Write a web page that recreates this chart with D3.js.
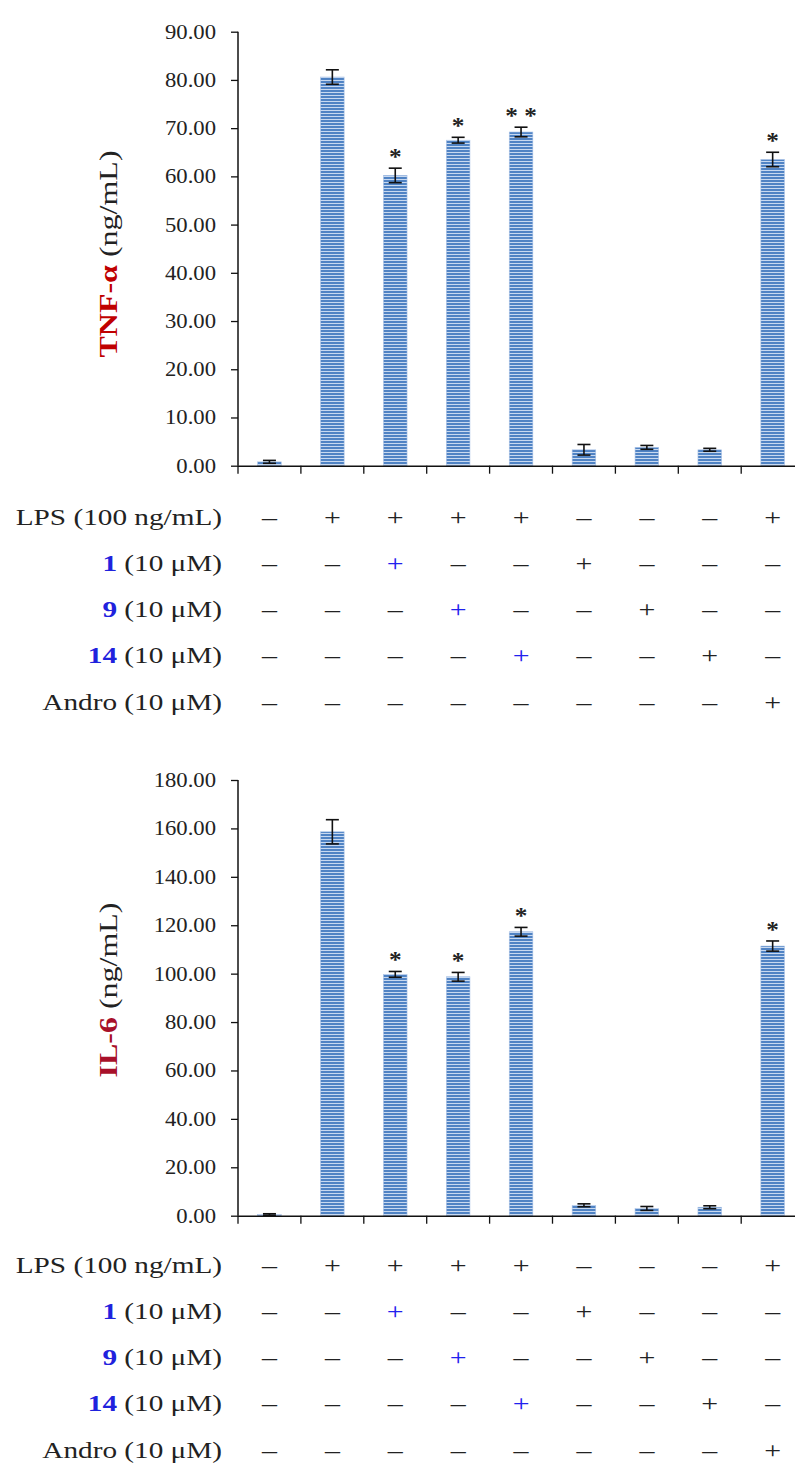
<!DOCTYPE html>
<html>
<head>
<meta charset="utf-8">
<script src="https://cdn.jsdelivr.net/npm/d3@7"></script>
<style>
  body { margin: 0; background: #fff; }
  svg { display: block; }
  text { font-family: "Liberation Serif", "Times New Roman", serif; fill: #222; }
</style>
</head>
<body>
<svg id="chart" width="795" height="1463"></svg>
<script>
// treatment groups, left to right
var groups = ["ctrl", "LPS", "LPS+1", "LPS+9", "LPS+14", "1", "9", "14", "LPS+Andro"];

// TNF-a (ng/mL), mean and error
var tnfMean = [0.8, 80.6, 60.2, 67.5, 69.2, 3.3, 3.8, 3.3, 63.5];
var tnfErr  = [0.3, 1.5, 1.5, 0.6, 1.0, 1.1, 0.4, 0.3, 1.5];
var tnfSig  = ["", "", "*", "*", "* *", "", "", "", "*"];
var tnfTicks = [0, 10, 20, 30, 40, 50, 60, 70, 80, 90];

// IL-6 (ng/mL), mean and error
var il6Mean = [0.5, 158.6, 99.7, 98.7, 117.3, 4.3, 3.0, 3.5, 111.4];
var il6Err  = [0.3, 5.0, 1.2, 1.8, 1.8, 0.6, 0.8, 0.6, 2.1];
var il6Sig  = ["", "", "*", "*", "*", "", "", "", "*"];
var il6Ticks = [0, 20, 40, 60, 80, 100, 120, 140, 160, 180];

// +/- table under each chart
var rowLabels = [["", "LPS (100 ng/mL)"], ["1", " (10 μM)"], ["9", " (10 μM)"], ["14", " (10 μM)"], ["", "Andro (10 μM)"]];
var lpsRow   = [0, 1, 1, 1, 1, 0, 0, 0, 1];
var cmp1Row  = [0, 0, 1, 0, 0, 1, 0, 0, 0];
var cmp9Row  = [0, 0, 0, 1, 0, 0, 1, 0, 0];
var cmp14Row = [0, 0, 0, 0, 1, 0, 0, 1, 0];
var androRow = [0, 0, 0, 0, 0, 0, 0, 0, 1];
var tableRows = [lpsRow, cmp1Row, cmp9Row, cmp14Row, androRow];

var svg = d3.select("#chart");

// striped fill like the excel bars
var pat = svg.append("defs").append("pattern")
    .attr("id", "stripes").attr("patternUnits", "userSpaceOnUse")
    .attr("width", 6).attr("height", 3);
pat.append("rect").attr("width", 6).attr("height", 3).attr("fill", "#5083c4");
pat.append("rect").attr("y", 2).attr("width", 6).attr("height", 1).attr("fill", "#c8d9f0");

var x = d3.scaleBand().domain(groups).range([238, 238 + 62.9 * 9]).paddingInner(0.625).paddingOuter(0.3125);

// text squeezed/widened horizontally, the source picture is not square
function stretched(g, px, py, size, anchor, sx) {
    return g.append("text")
        .attr("transform", "translate(" + px + "," + py + ") scale(" + sx + ",1)")
        .attr("text-anchor", anchor)
        .attr("font-size", size);
}

function drawPanel(opt) {
    var g = svg.append("g");
    var y = d3.scaleLinear().domain([0, opt.max]).range([opt.y0, opt.yTop]);

    // bars
    g.selectAll("rect.bar").data(opt.mean).enter().append("rect")
        .attr("class", "bar")
        .attr("x", (d, i) => x(groups[i]))
        .attr("width", x.bandwidth())
        .attr("y", d => y(d))
        .attr("height", d => opt.y0 - y(d))
        .attr("fill", "url(#stripes)")
        .attr("stroke", "#a9c2e6").attr("stroke-width", 0.6);

    // error bars
    var eb = g.selectAll("g.err").data(opt.mean).enter().append("g")
        .attr("stroke", "#111").attr("stroke-width", 1.6);
    eb.append("line")
        .attr("x1", (d, i) => x(groups[i]) + x.bandwidth() / 2)
        .attr("x2", (d, i) => x(groups[i]) + x.bandwidth() / 2)
        .attr("y1", (d, i) => y(d - opt.err[i]))
        .attr("y2", (d, i) => y(d + opt.err[i]));
    [-1, 1].forEach(function (s) {
        eb.append("line")
            .attr("x1", (d, i) => x(groups[i]) + x.bandwidth() / 2 - 6.5)
            .attr("x2", (d, i) => x(groups[i]) + x.bandwidth() / 2 + 6.5)
            .attr("y1", (d, i) => y(d + s * opt.err[i]))
            .attr("y2", (d, i) => y(d + s * opt.err[i]));
    });

    // significance stars
    opt.sig.forEach(function (s, i) {
        if (!s) return;
        stretched(g, x(groups[i]) + x.bandwidth() / 2, y(opt.mean[i] + opt.err[i]) - 4, 23, "middle", 1.1)
            .attr("font-weight", "bold").text(s);
    });

    // y axis
    var yAxis = d3.axisLeft(y).tickValues(opt.ticks).tickSize(7).tickFormat(d3.format(".2f"));
    var ya = g.append("g").attr("transform", "translate(238,0)").call(yAxis);
    ya.select(".domain").attr("stroke", "#111").attr("stroke-width", 1.5).attr("d", "M0," + opt.yTop + "V" + opt.y0);
    ya.selectAll(".tick line").attr("stroke", "#111").attr("stroke-width", 1.3);
    ya.selectAll(".tick text").remove();
    opt.ticks.forEach(function (t) {
        stretched(g, 216, y(t) + 7, 21, "end", 1.08).text(d3.format(".2f")(t));
    });

    // x axis with ticks between groups
    var edges = groups.map(d => x(d) - x.step() * x.paddingInner() / 2).concat([238 + 62.9 * 9]);
    g.append("line").attr("x1", 238).attr("x2", 804).attr("y1", opt.y0 + 0.5).attr("y2", opt.y0 + 0.5)
        .attr("stroke", "#111").attr("stroke-width", 1.5);
    g.selectAll("line.xt").data(edges).enter().append("line")
        .attr("x1", d => d).attr("x2", d => d)
        .attr("y1", opt.y0).attr("y2", opt.y0 + 8)
        .attr("stroke", "#111").attr("stroke-width", 1.3);

    // rotated y title
    var tt = g.append("text")
        .attr("transform", "translate(" + opt.titleX + "," + opt.titleY + ") rotate(-90) scale(1.28,1)")
        .attr("text-anchor", "middle").attr("font-size", 25);
    tt.append("tspan").attr("font-weight", "bold").style("fill", opt.titleColor).text(opt.title);
    tt.append("tspan").text(" (ng/mL)");

    // treatment table
    tableRows.forEach(function (row, r) {
        var ry = opt.rowY[r];
        var lab = stretched(g, 222, ry + 7.5, 22.5, "end", 1.3);
        if (rowLabels[r][0]) lab.append("tspan").attr("font-weight", "bold").style("fill", "#1f22dd").text(rowLabels[r][0]);
        lab.append("tspan").text(rowLabels[r][1]);
        row.forEach(function (v, i) {
            var blue = v && r >= 1 && r <= 3 && lpsRow[i];
            stretched(g, x(groups[i]) + x.bandwidth() / 2, ry + 8, 23, "middle", 1.3)
                .style("fill", blue ? "#1f22ee" : "#222")
                .text(v ? "+" : "–");
        });
    });
}

drawPanel({
    mean: tnfMean, err: tnfErr, sig: tnfSig, ticks: tnfTicks, max: 90,
    y0: 465.7, yTop: 31.7, title: "TNF-α", titleColor: "#c00000",
    titleX: 117, titleY: 254,
    rowY: [517, 563, 609, 655, 702]
});

drawPanel({
    mean: il6Mean, err: il6Err, sig: il6Sig, ticks: il6Ticks, max: 180,
    y0: 1215.7, yTop: 780, title: "IL-6", titleColor: "#a8102a",
    titleX: 117, titleY: 990,
    rowY: [1265, 1311, 1357, 1403, 1450]
});
</script>
</body>
</html>
